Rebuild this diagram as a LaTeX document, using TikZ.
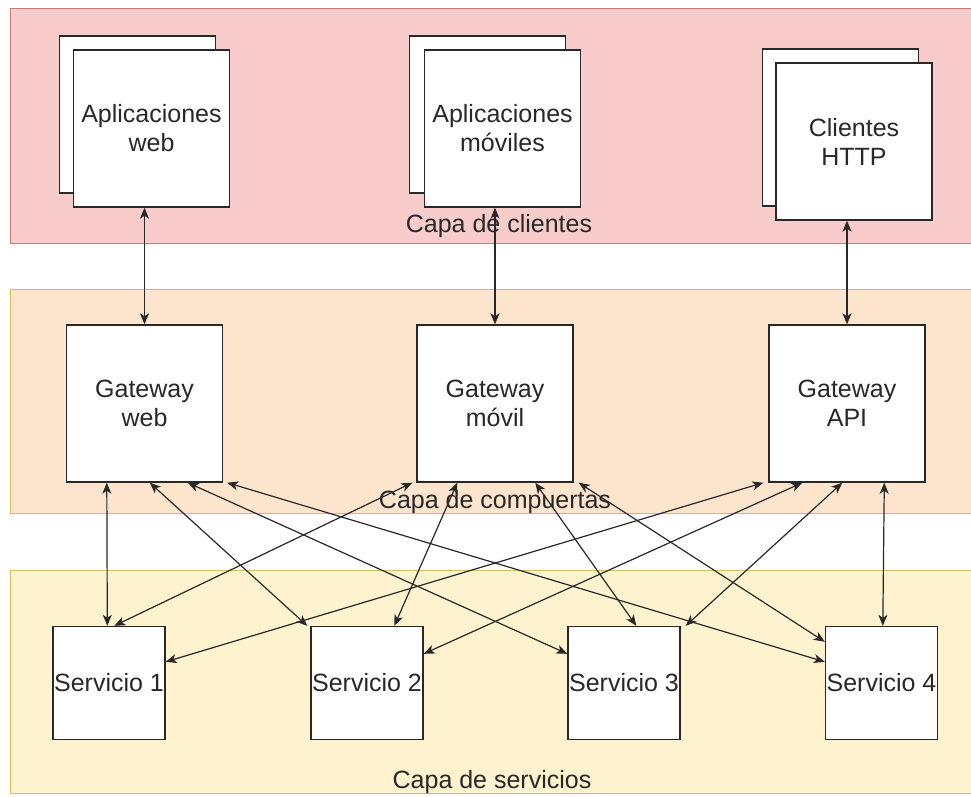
\documentclass[tikz,border=0pt]{standalone}
\usepackage{fontspec}
\setmainfont{Liberation Sans}
\usetikzlibrary{arrows.meta}
\definecolor{pinkfill}{RGB}{247,204,203}
\definecolor{pinkline}{RGB}{205,120,118}
\definecolor{peachfill}{RGB}{253,229,205}
\definecolor{peachline}{RGB}{214,190,90}
\definecolor{yellowfill}{RGB}{255,242,206}
\definecolor{yellowline}{RGB}{214,190,90}
\definecolor{ink}{RGB}{40,40,40}
\tikzset{
  layer/.style={draw, line width=1pt},
  box/.style={draw=ink, fill=white, line width=1.4pt, inner sep=0pt, align=center,
    font=\fontsize{25}{29}\selectfont, text=ink},
  bigbox/.style={box, minimum width=156pt, minimum height=157pt},
  svcbox/.style={box, minimum width=112pt, minimum height=113pt},
  layertext/.style={font=\fontsize{25}{28}\selectfont, text=ink},
  link/.style={draw=ink, line width=1.2pt, {Stealth[length=11pt,width=9pt,inset=3pt]}-{Stealth[length=11pt,width=9pt,inset=3pt]}}
}
\begin{document}
\begin{tikzpicture}[x=1pt,y=-1pt]
\useasboundingbox (0,0) rectangle (971,796);
\fill[white] (0,0) rectangle (971,796);
% layers
\draw[layer, draw=pinkline, fill=pinkfill] (10,8) rectangle (975,243);
\draw[layer, draw=peachline, fill=peachfill] (10,289) rectangle (975,513);
\draw[layer, draw=yellowline, fill=yellowfill] (10,570) rectangle (975,793);
% clients (stacked)
\node[bigbox] (appwebB) at (137.5,114.5) {};
\node[bigbox] (appweb) at (151.5,128.5) {Aplicaciones\\web};
\node[bigbox] (appmovB) at (487.5,114.5) {};
\node[bigbox] (appmov) at (502.5,128.5) {Aplicaciones\\móviles};
\node[bigbox] (httpB) at (840.5,127.5) {};
\node[bigbox] (http) at (854,141.5) {Clientes\\HTTP};
\node[layertext] (lcli) at (499,226) {Capa de clientes};
% gateways
\node[bigbox] (gweb) at (144.5,403.5) {Gateway\\web};
\node[bigbox] (gmov) at (495,403.5) {Gateway\\móvil};
\node[bigbox] (gapi) at (847,403.5) {Gateway\\API};
\node[layertext] (lgw) at (495,502) {Capa de compuertas};
% services
\node[svcbox] (s1) at (109,683) {Servicio 1};
\node[svcbox] (s2) at (367,683) {Servicio 2};
\node[svcbox] (s3) at (624,683) {Servicio 3};
\node[svcbox] (s4) at (881.5,683) {Servicio 4};
\node[layertext] (lsv) at (492,782) {Capa de servicios};
% client - gateway
\draw[link] (gweb.north |- appweb.south) -- (gweb.north);
\draw[link] (gmov.north |- appmov.south) -- (gmov.north);
\draw[link] (gapi.north |- http.south) -- (gapi.north);
% web gateway
\draw[link] ([xshift=41pt]gweb.south west) -- ([xshift=55pt]s1.north west);
\draw[link] ([xshift=84pt]gweb.south west) -- ([xshift=-3pt]s2.north west);
\draw[link] ([xshift=122pt]gweb.south west) -- ([yshift=-28pt]s3.north west);
\draw[link] ([xshift=4pt]gweb.south east) -- ([yshift=-36pt]s4.north west);
% mobile gateway
\draw[link] ([xshift=-4pt]gmov.south west) -- ([xshift=62pt]s1.north west);
\draw[link] ([xshift=41pt]gmov.south west) -- ([xshift=84pt]s2.north west);
\draw[link] ([xshift=119pt]gmov.south west) -- ([xshift=69pt]s3.north west);
\draw[link] ([xshift=5pt]gmov.south east) -- ([yshift=-16pt]s4.north west);
% API gateway
\draw[link] ([xshift=-5pt]gapi.south west) -- ([yshift=-36pt]s1.north east);
\draw[link] ([xshift=34pt]gapi.south west) -- ([yshift=-28pt]s2.north east);
\draw[link] ([xshift=74pt]gapi.south west) -- ([xshift=5pt]s3.north east);
\draw[link] ([xshift=116pt]gapi.south west) -- ([xshift=58pt]s4.north west);
\end{tikzpicture}
\end{document}
